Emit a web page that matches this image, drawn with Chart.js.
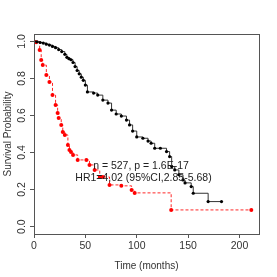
<!DOCTYPE html>
<html>
<head>
<meta charset="utf-8">
<script src="https://cdn.jsdelivr.net/npm/chart.js@4"></script>
<style>
  html, body { margin: 0; padding: 0; background: #fff; }
  #wrap { width: 277px; height: 277px; }
</style>
</head>
<body>
<div id="wrap"><canvas id="km"></canvas></div>
<script>
// Low risk group (black)
const blackTimes = [0, 3, 6, 9, 12, 15, 18, 21, 24, 27, 30, 32, 34, 36, 38, 40, 42, 44, 46, 48, 50, 52,
    58, 62, 67, 72, 75.5, 80, 85, 90, 93, 96, 100, 106, 111, 114, 117.5, 123, 129, 132, 134, 137, 141,
    145, 147, 153, 155, 169.5, 182.5];
const blackSurv = [1, 0.998, 0.994, 0.991, 0.985, 0.98, 0.973, 0.966, 0.956, 0.945, 0.93, 0.914, 0.907,
    0.901, 0.886, 0.864, 0.843, 0.825, 0.807, 0.79, 0.764, 0.727,
    0.721, 0.71, 0.683, 0.667, 0.629, 0.608, 0.597, 0.575, 0.549, 0.516, 0.484, 0.477, 0.462, 0.45,
    0.423, 0.423, 0.405, 0.378, 0.324, 0.306, 0.28, 0.252, 0.236, 0.216, 0.18, 0.135, 0.135];

// High risk group (red)
const redTimes = [0, 2, 5.5, 7, 8.5, 12, 15, 18, 21, 23, 24, 26.5, 28, 30, 33, 34.5, 36, 38, 42.5, 51,
    54, 59, 64, 67, 73.5, 85, 95, 98, 133.5, 211.5];
const redSurv = [1, 0.996, 0.953, 0.9, 0.872, 0.818, 0.781, 0.71, 0.657, 0.613, 0.586, 0.549, 0.511,
    0.495, 0.441, 0.414, 0.403, 0.387, 0.36, 0.36, 0.333, 0.306, 0.268, 0.268, 0.225, 0.22, 0.198,
    0.182, 0.09, 0.09];

const xTicks = [0, 50, 100, 150, 200];
const yTicks = [0, 0.2, 0.4, 0.6, 0.8, 1.0];
const statLines = ["n = 527, p = 1.6E-17", "HR1=4,02 (95%CI,2.85-5.68)"];

const toPoints = (ts, ss) => ts.map((t, i) => ({ x: t, y: ss[i] }));
const font = "Liberation Sans, Arial, sans-serif";

// box, rotated y labels, stats text
const decor = {
    id: "decor",
    afterDatasetsDraw(chart) {
        const { ctx, chartArea: a } = chart;
        const yScale = chart.scales.y;
        ctx.save();
        ctx.strokeStyle = "#555";
        ctx.lineWidth = 1;
        ctx.strokeRect(a.left + 0.5, a.top + 0.5, a.right - a.left, a.bottom - a.top);

        ctx.fillStyle = "#333";
        ctx.font = "10.5px " + font;
        ctx.textAlign = "center";
        ctx.textBaseline = "middle";
        yTicks.forEach(v => {
            ctx.save();
            ctx.translate(22, yScale.getPixelForValue(v));
            ctx.rotate(-Math.PI / 2);
            ctx.fillText(v.toFixed(1), 0, 0);
            ctx.restore();
        });

        ctx.fillStyle = "#222";
        ctx.font = "10.5px " + font;
        ctx.fillText(statLines[0], 141, 166);
        ctx.fillText(statLines[1], 143.5, 178);
        ctx.restore();
    }
};

new Chart(document.getElementById("km"), {
    type: "line",
    data: {
        datasets: [
            {
                data: toPoints(blackTimes, blackSurv),
                borderColor: "#333",
                borderWidth: 1,
                stepped: "before",
                pointRadius: 1.6,
                pointBackgroundColor: "#000",
                pointBorderWidth: 0
            },
            {
                data: toPoints(redTimes, redSurv),
                borderColor: "rgba(255,0,0,0.85)",
                borderWidth: 1,
                borderDash: [3, 2],
                stepped: "before",
                pointRadius: 2,
                pointBackgroundColor: "#ff0000",
                pointBorderWidth: 0
            }
        ]
    },
    options: {
        responsive: true,
        maintainAspectRatio: false,
        animation: false,
        layout: { padding: { left: 0, top: 34, right: 18, bottom: 0 } },
        plugins: { legend: { display: false }, tooltip: { enabled: false } },
        scales: {
            x: {
                type: "linear",
                min: 0,
                max: 219,
                afterBuildTicks: s => { s.ticks = xTicks.map(v => ({ value: v })); },
                afterFit: s => { s.height = 43; },
                grid: { drawOnChartArea: false, tickLength: 4, color: "#555" },
                border: { display: false },
                ticks: { color: "#333", font: { size: 10.5, family: font }, padding: 2, maxRotation: 0 },
                title: { display: true, text: "Time (months)", color: "#333", font: { size: 10, family: font }, padding: { bottom: 5, top: 0 } }
            },
            y: {
                min: -0.04,
                max: 1.04,
                afterBuildTicks: s => { s.ticks = yTicks.map(v => ({ value: v })); },
                afterFit: s => { s.width = 34; },
                grid: { drawOnChartArea: false, tickLength: 4, color: "#555" },
                border: { display: false },
                ticks: { display: false },
                title: { display: true, text: "Survival Probability", color: "#333", font: { size: 10, family: font }, padding: { top: 2, bottom: 0 } }
            }
        }
    },
    plugins: [decor]
});
</script>
</body>
</html>
